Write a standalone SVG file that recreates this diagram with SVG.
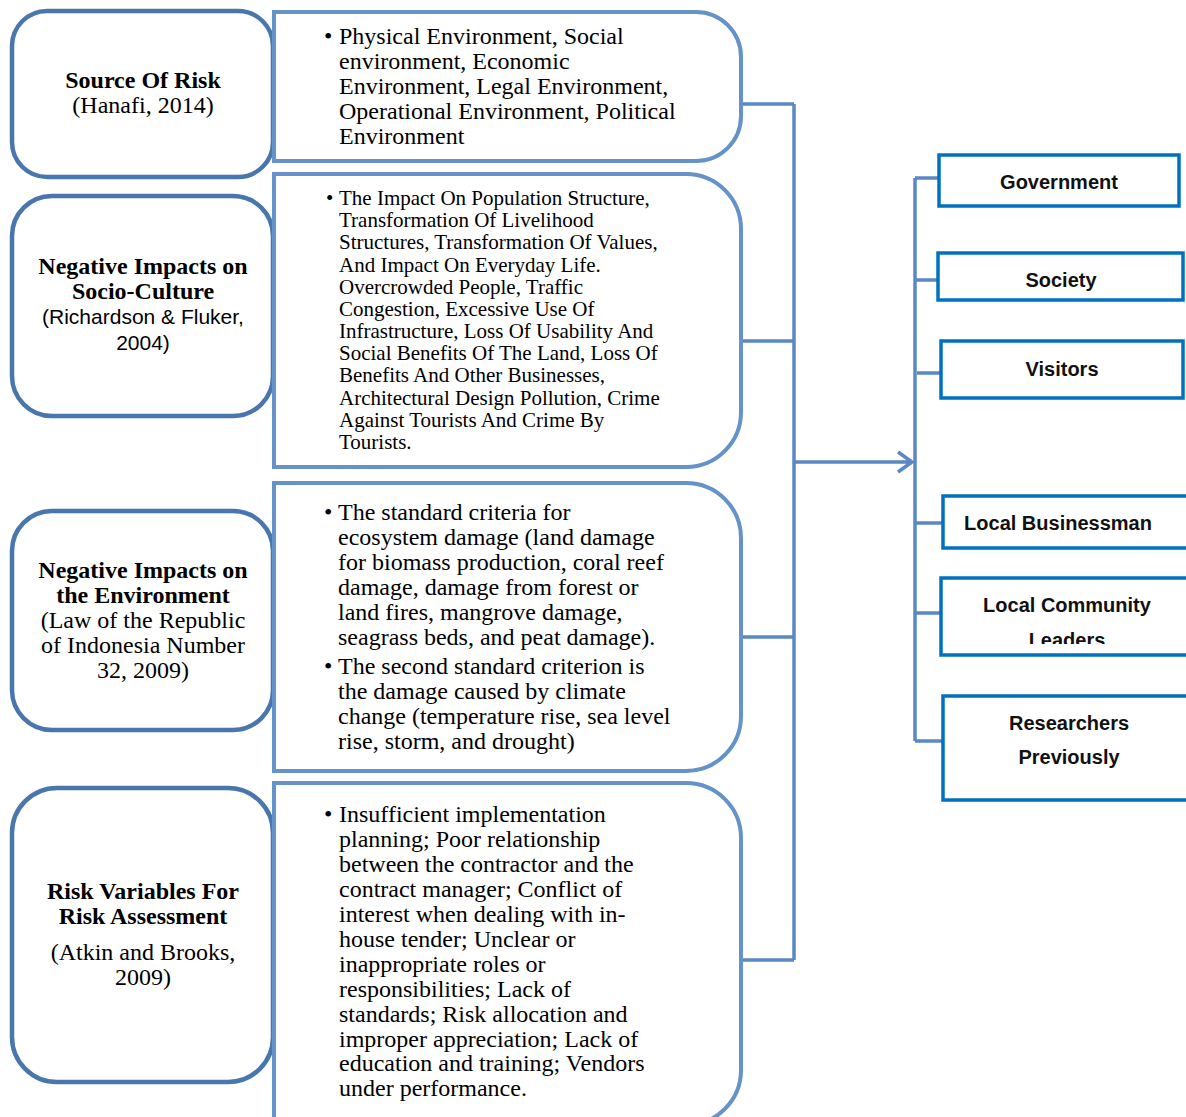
<svg xmlns="http://www.w3.org/2000/svg" width="1186" height="1117" viewBox="0 0 1186 1117">
<style>
.lb{fill:#fff;stroke:#4a76ae;stroke-width:4.5}
.rb{fill:#fff;stroke:#6592c9;stroke-width:4}
.sb{fill:#fff;stroke:#0070c0;stroke-width:3.5}
.con{fill:none;stroke:#5a88c4;stroke-width:3.5}
.tb{font-family:"Liberation Serif",serif;font-size:24px;font-weight:bold;fill:#000;text-anchor:middle}
.tr{font-family:"Liberation Serif",serif;font-size:24px;fill:#000;text-anchor:middle}
.ts{font-family:"Liberation Sans",sans-serif;font-size:21px;fill:#000;text-anchor:middle}
.bt{font-family:"Liberation Serif",serif;font-size:24px;fill:#000}
.bt2{font-family:"Liberation Serif",serif;font-size:21px;fill:#000}
.st{font-family:"Liberation Sans",sans-serif;font-size:20px;font-weight:bold;fill:#111;text-anchor:middle}
</style>
<defs>
<clipPath id="clipLCL"><rect x="941" y="578" width="245" height="66"/></clipPath>
</defs>
<g id="connectors">
<path class="con" d="M741,104 H794 M741,341 H794 M741,637 H794 M741,960 H794 M794,104 V960"/>
<path class="con" d="M794,462 H912 M898,452 L912,462 L898,472"/>
<path class="con" d="M915,178 V741 M915,178 H939 M915,280 H938 M917,373 H941 M915,523 H943 M915,613 H941 M915,741 H943"/>
</g>
<g id="source-of-risk">
<rect class="lb" x="12" y="11" width="261" height="166" rx="35"/>
<text class="tb" x="143" y="88">Source Of Risk</text>
<text class="tr" x="143" y="113">(Hanafi, 2014)</text>
</g>
<g id="socio-culture">
<rect class="lb" x="12" y="196" width="261" height="220" rx="40"/>
<text class="tb" x="143" y="274">Negative Impacts on</text>
<text class="tb" x="143" y="299">Socio-Culture</text>
<text class="ts" x="143" y="324">(Richardson &amp; Fluker,</text>
<text class="ts" x="143" y="350">2004)</text>
</g>
<g id="environment">
<rect class="lb" x="12" y="511" width="261" height="219" rx="40"/>
<text class="tb" x="143" y="578">Negative Impacts on</text>
<text class="tb" x="143" y="603">the Environment</text>
<text class="tr" x="143" y="628">(Law of the Republic</text>
<text class="tr" x="143" y="653">of Indonesia Number</text>
<text class="tr" x="143" y="678">32, 2009)</text>
</g>
<g id="risk-variables">
<rect class="lb" x="12" y="788" width="261" height="294" rx="45"/>
<text class="tb" x="143" y="899">Risk Variables For</text>
<text class="tb" x="143" y="924">Risk Assessment</text>
<text class="tr" x="143" y="960">(Atkin and Brooks,</text>
<text class="tr" x="143" y="985">2009)</text>
</g>
<g id="source-details">
<path class="rb" d="M274,12 H696 A45,45 0 0 1 741,57 V116 A45,45 0 0 1 696,161 H274 Z"/>
<text class="bt"><tspan x="324" y="44">•</tspan><tspan x="339" y="44">Physical Environment, Social</tspan><tspan x="339" y="69">environment, Economic</tspan><tspan x="339" y="94">Environment, Legal Environment,</tspan><tspan x="339" y="119">Operational Environment, Political</tspan><tspan x="339" y="144">Environment</tspan></text>
</g>
<g id="socio-details">
<path class="rb" d="M274,174 H686 A55,55 0 0 1 741,229 V412 A55,55 0 0 1 686,467 H274 Z"/>
<text class="bt2"><tspan x="326" y="205">•</tspan><tspan x="339" y="205">The Impact On Population Structure,</tspan><tspan x="339" y="227">Transformation Of Livelihood</tspan><tspan x="339" y="249">Structures, Transformation Of Values,</tspan><tspan x="339" y="272">And Impact On Everyday Life.</tspan><tspan x="339" y="294">Overcrowded People, Traffic</tspan><tspan x="339" y="316">Congestion, Excessive Use Of</tspan><tspan x="339" y="338">Infrastructure, Loss Of Usability And</tspan><tspan x="339" y="360">Social Benefits Of The Land, Loss Of</tspan><tspan x="339" y="382">Benefits And Other Businesses,</tspan><tspan x="339" y="405">Architectural Design Pollution, Crime</tspan><tspan x="339" y="427">Against Tourists And Crime By</tspan><tspan x="339" y="449">Tourists.</tspan></text>
</g>
<g id="environment-details">
<path class="rb" d="M274,483 H686 A55,55 0 0 1 741,538 V716 A55,55 0 0 1 686,771 H274 Z"/>
<text class="bt"><tspan x="324" y="520">•</tspan><tspan x="338" y="520">The standard criteria for</tspan><tspan x="338" y="545">ecosystem damage (land damage</tspan><tspan x="338" y="570">for biomass production, coral reef</tspan><tspan x="338" y="595">damage, damage from forest or</tspan><tspan x="338" y="620">land fires, mangrove damage,</tspan><tspan x="338" y="645">seagrass beds, and peat damage).</tspan><tspan x="324" y="674">•</tspan><tspan x="338" y="674">The second standard criterion is</tspan><tspan x="338" y="699">the damage caused by climate</tspan><tspan x="338" y="724">change (temperature rise, sea level</tspan><tspan x="338" y="749">rise, storm, and drought)</tspan></text>
</g>
<g id="risk-details">
<path class="rb" d="M274,783 H686 A55,55 0 0 1 741,838 V1070 A55,55 0 0 1 686,1125 H274 Z"/>
<text class="bt"><tspan x="324" y="822">•</tspan><tspan x="339" y="822">Insufficient implementation</tspan><tspan x="339" y="847">planning; Poor relationship</tspan><tspan x="339" y="872">between the contractor and the</tspan><tspan x="339" y="897">contract manager; Conflict of</tspan><tspan x="339" y="922">interest when dealing with in-</tspan><tspan x="339" y="947">house tender; Unclear or</tspan><tspan x="339" y="972">inappropriate roles or</tspan><tspan x="339" y="997">responsibilities; Lack of</tspan><tspan x="339" y="1022">standards; Risk allocation and</tspan><tspan x="339" y="1047">improper appreciation; Lack of</tspan><tspan x="339" y="1071">education and training; Vendors</tspan><tspan x="339" y="1096">under performance.</tspan></text>
</g>
<g id="government">
<rect class="sb" x="939" y="155" width="240" height="51"/>
<text class="st" x="1059" y="189">Government</text>
</g>
<g id="society">
<rect class="sb" x="938" y="253" width="245" height="47"/>
<text class="st" x="1061" y="287">Society</text>
</g>
<g id="visitors">
<rect class="sb" x="941" y="341" width="242" height="57"/>
<text class="st" x="1062" y="376">Visitors</text>
</g>
<g id="local-businessman">
<rect class="sb" x="943" y="496" width="246" height="52"/>
<text class="st" x="1058" y="530">Local Businessman</text>
</g>
<g id="local-community-leaders">
<rect class="sb" x="941" y="578" width="248" height="77"/>
<g clip-path="url(#clipLCL)">
<text class="st" x="1067" y="612">Local Community</text>
<text class="st" x="1067" y="647">Leaders</text>
</g>
</g>
<g id="researchers-previously">
<rect class="sb" x="943" y="696" width="246" height="104"/>
<text class="st" x="1069" y="730">Researchers</text>
<text class="st" x="1069" y="764">Previously</text>
</g>
</svg>
